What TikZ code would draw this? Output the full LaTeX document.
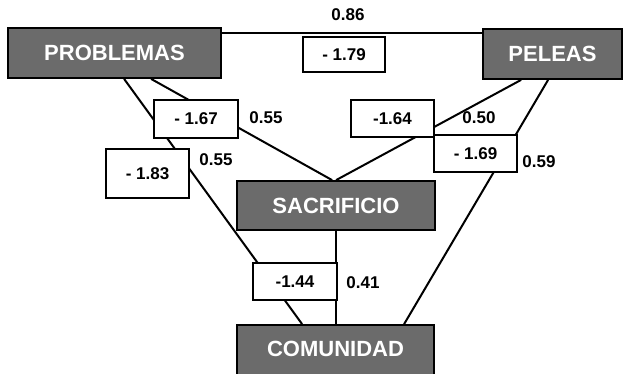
\documentclass[tikz,border=0pt]{standalone}
\usepackage{fontspec}
\setmainfont{Liberation Sans}
\begin{document}
\begin{tikzpicture}[x=1pt,y=-1pt,
  var/.style={draw=black,line width=1.8pt,fill=black!58,text=white,
    font=\fontsize{22}{24}\selectfont\bfseries,inner sep=0pt,anchor=center},
  coef/.style={draw=black,line width=1.8pt,fill=white,
    font=\fontsize{17}{19}\selectfont\bfseries,inner sep=0pt,anchor=center},
  val/.style={font=\fontsize{17}{19}\selectfont\bfseries,inner sep=0pt,anchor=center},
  path/.style={line width=2pt,draw=black}]
\useasboundingbox (0,0) rectangle (624,373);
\clip (0,0) rectangle (624,373);
% variables
\node[var,minimum width=213pt,minimum height=50pt] (prob) at (114.5,53) {PROBLEMAS};
\node[var,minimum width=139pt,minimum height=50pt] (pel) at (552.5,54) {PELEAS};
\node[var,minimum width=198pt,minimum height=49pt] (sac) at (336,205.5) {SACRIFICIO};
\node[var,minimum width=197pt,minimum height=56pt,text depth=8pt] (com) at (335.5,353) {COMUNIDAD};
% connectors
\draw[path] ([yshift=-6pt]prob.north east) coordinate (t) -- (t -| pel.west);
\draw[path] ([xshift=117pt]prob.south west) -- ([xshift=66pt]com.north west);
\draw[path] ([xshift=144pt]prob.south west) -- ([xshift=96pt]sac.north west);
\draw[path] ([xshift=39pt]pel.south west) -- ([xshift=100pt]sac.north west);
\draw[path] ([xshift=66pt]pel.south west) -- ([xshift=168pt]com.north west);
\draw[path] (sac.south) -- (sac.south |- com.north);
% coefficient boxes
\node[coef,minimum width=82pt,minimum height=35pt] (c179) at (344,54.5) {- 1.79};
\node[coef,minimum width=84pt,minimum height=38pt] (c167) at (196,119) {- 1.67};
\node[coef,minimum width=83pt,minimum height=49pt] (c183) at (147.5,173.5) {- 1.83};
\node[coef,minimum width=83pt,minimum height=37pt] (c164) at (392.5,118.5) {-1.64};
\node[coef,minimum width=83pt,minimum height=37pt] (c169) at (475.5,153.5) {- 1.69};
\node[coef,minimum width=84pt,minimum height=37pt] (c144) at (295,281.5) {-1.44};
% values
\node[val] (v086) at (348,15) {0.86};
\node[val] (v055a) at (266,118) {0.55};
\node[val] (v055b) at (216,160) {0.55};
\node[val] (v050) at (479,118) {0.50};
\node[val] (v059) at (539,162) {0.59};
\node[val] (v041) at (363,283) {0.41};
\end{tikzpicture}
\end{document}
